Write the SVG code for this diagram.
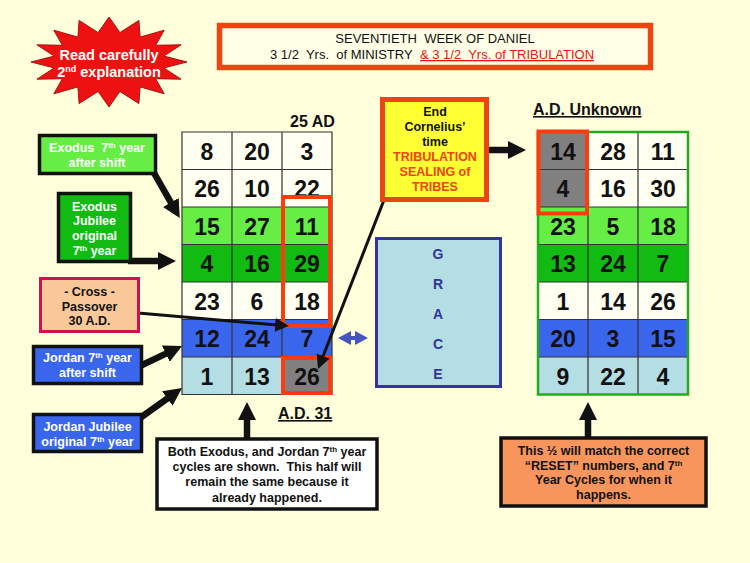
<svg xmlns="http://www.w3.org/2000/svg" width="750" height="563" viewBox="0 0 750 563">
<defs>
<style>
text{font-family:"Liberation Sans",Arial,sans-serif}
.num{font-size:23px;font-weight:bold;text-anchor:middle;fill:#111}
.lbl{font-size:12.5px;font-weight:bold;text-anchor:middle}
.wt{fill:#fff}
.bk{fill:#111}
.hd{font-size:16px;font-weight:bold;fill:#111}
.gl{stroke:#333;stroke-width:1.2;fill:none}
.rw{fill:#fffff2}
.lg{fill:#66ee44}
.dg{fill:#11bb11}
.bl{fill:#3a66ee}
.lb{fill:#b4dde4}
.gy{fill:#808080}
.hl{fill:none;stroke:#ff3a10;stroke-width:4}
.box{stroke:#111;stroke-width:3.5}
.thick{stroke:#111;stroke-width:6.5;fill:none}
.thin{stroke:#111;stroke-width:3;fill:none}
</style>
<marker id="big" viewBox="0 0 10 10" refX="4" refY="5" markerWidth="18" markerHeight="18" markerUnits="userSpaceOnUse" orient="auto"><path d="M0,0 L10,5 L0,10 z" fill="#111"/></marker>
<marker id="small" viewBox="0 0 10 10" refX="4" refY="5" markerWidth="14" markerHeight="14" markerUnits="userSpaceOnUse" orient="auto"><path d="M0,0 L10,5 L0,10 z" fill="#111"/></marker>
</defs>
<rect x="0" y="0" width="750" height="563" fill="#ffffdc"/>

<g id="starburst">
<polygon fill="#ee1111" stroke="#aa1111" stroke-width="1" points="187,62 163.9,67.9 181.1,79.2 155.6,78.7 164.2,93.8 140.1,86.9 138.9,103.6 119.9,91.4 109,107 98.1,91.4 79.1,103.6 77.9,86.9 53.8,93.8 62.4,78.7 36.9,79.2 54.1,67.9 31,62 54.1,56.1 36.9,44.8 62.4,45.3 53.8,30.2 77.9,37.1 79.1,20.4 98.1,32.6 109,17 119.9,32.6 138.9,20.4 140.1,37.1 164.2,30.2 155.6,45.3 181.1,44.8 163.9,56.1"/>
<text x="109" y="60" text-anchor="middle" font-size="14.5" font-weight="bold" fill="#fff">Read carefully</text>
<text x="109" y="77" text-anchor="middle" font-size="14.5" font-weight="bold" fill="#fff">2<tspan font-size="9" dy="-5">nd</tspan><tspan dy="5"> explanation</tspan></text>
</g>

<g id="title">
<rect x="219.5" y="25.5" width="431" height="42" fill="#ffffe8" stroke="#ee4411" stroke-width="5.5"/>
<text x="435" y="43" text-anchor="middle" font-size="13" fill="#111" xml:space="preserve">SEVENTIETH  WEEK OF DANIEL</text>
<text x="270" y="59" font-size="13" fill="#111" xml:space="preserve">3 1/2  Yrs.  of MINISTRY  </text>
<text x="420" y="59" font-size="13" fill="#ee1111" text-decoration="underline" xml:space="preserve">&amp; 3 1/2  Yrs. of TRIBULATION</text>
</g>

<g id="grid-left">
<text x="290" y="127" class="hd">25 AD</text>
<rect x="182" y="132" width="150" height="75" class="rw"/>
<rect x="182" y="207" width="150" height="37.5" class="lg"/>
<rect x="182" y="244.5" width="150" height="37.5" class="dg"/>
<rect x="182" y="282" width="150" height="37.5" class="rw"/>
<rect x="182" y="319.5" width="150" height="37.5" class="bl"/>
<rect x="182" y="357" width="150" height="37.5" class="lb"/>
<rect x="282" y="357" width="50" height="37.5" class="gy"/>
<path class="gl" d="M182,132 H332 V394.5 H182 Z M232,132 V394.5 M282,132 V394.5 M182,169.5 H332 M182,207 H332 M182,244.5 H332 M182,282 H332 M182,319.5 H332 M182,357 H332"/>
<text class="num" x="207" y="159.5">8</text><text class="num" x="257" y="159.5">20</text><text class="num" x="307" y="159.5">3</text>
<text class="num" x="207" y="197">26</text><text class="num" x="257" y="197">10</text><text class="num" x="307" y="197">22</text>
<text class="num" x="207" y="234.5">15</text><text class="num" x="257" y="234.5">27</text><text class="num" x="307" y="234.5">11</text>
<text class="num" x="207" y="272">4</text><text class="num" x="257" y="272">16</text><text class="num" x="307" y="272">29</text>
<text class="num" x="207" y="309.5">23</text><text class="num" x="257" y="309.5">6</text><text class="num" x="307" y="309.5">18</text>
<text class="num" x="207" y="347">12</text><text class="num" x="257" y="347">24</text><text class="num" x="307" y="347">7</text>
<text class="num" x="207" y="384.5">1</text><text class="num" x="257" y="384.5">13</text><text class="num" x="307" y="384.5">26</text>
<rect x="283" y="197" width="47" height="129" class="hl"/>
<rect x="283" y="358" width="47" height="35" class="hl"/>
<text x="278" y="419" class="hd" text-decoration="underline">A.D. 31</text>
</g>

<g id="grid-right">
<text x="533" y="115" class="hd" text-decoration="underline">A.D. Unknown</text>
<rect x="538" y="132" width="150" height="75" class="rw"/>
<rect x="538" y="132" width="50" height="75" class="gy"/>
<rect x="538" y="207" width="150" height="37.5" class="lg"/>
<rect x="538" y="244.5" width="150" height="37.5" class="dg"/>
<rect x="538" y="282" width="150" height="37.5" class="rw"/>
<rect x="538" y="319.5" width="150" height="37.5" class="bl"/>
<rect x="538" y="357" width="150" height="37.5" class="lb"/>
<path class="gl" d="M588,132 V394.5 M638,132 V394.5 M538,169.5 H688 M538,207 H688 M538,244.5 H688 M538,282 H688 M538,319.5 H688 M538,357 H688"/>
<rect x="538" y="132" width="150" height="262.5" fill="none" stroke="#22aa22" stroke-width="2.5"/>
<text class="num" x="563" y="159.5">14</text><text class="num" x="613" y="159.5">28</text><text class="num" x="663" y="159.5">11</text>
<text class="num" x="563" y="197">4</text><text class="num" x="613" y="197">16</text><text class="num" x="663" y="197">30</text>
<text class="num" x="563" y="234.5">23</text><text class="num" x="613" y="234.5">5</text><text class="num" x="663" y="234.5">18</text>
<text class="num" x="563" y="272">13</text><text class="num" x="613" y="272">24</text><text class="num" x="663" y="272">7</text>
<text class="num" x="563" y="309.5">1</text><text class="num" x="613" y="309.5">14</text><text class="num" x="663" y="309.5">26</text>
<text class="num" x="563" y="347">20</text><text class="num" x="613" y="347">3</text><text class="num" x="663" y="347">15</text>
<text class="num" x="563" y="384.5">9</text><text class="num" x="613" y="384.5">22</text><text class="num" x="663" y="384.5">4</text>
<rect x="538.5" y="131.5" width="48.5" height="82" class="hl"/>
</g>

<g id="grace">
<rect x="376.5" y="238.5" width="124" height="148" fill="#b4dee4" stroke="#333399" stroke-width="3"/>
<g font-size="14" font-weight="bold" fill="#333399" text-anchor="middle">
<text x="438" y="258.5">G</text><text x="438" y="289">R</text><text x="438" y="319">A</text><text x="438" y="349">C</text><text x="438" y="379">E</text>
</g>
</g>

<g id="connectors">
<path class="thick" d="M150,166 L174.4,208.7" marker-end="url(#big)"/>
<path class="thick" d="M128,261 L165.2,261" marker-end="url(#big)"/>
<path class="thin" d="M138,313 L280.6,325.3" marker-end="url(#small)"/>
<path class="thick" d="M140,366 L172.3,350.6" marker-end="url(#big)"/>
<path class="thick" d="M140,418 L173.2,394.3" marker-end="url(#big)"/>
<path class="thick" d="M247,440 L247,412.8" marker-end="url(#big)"/>
<path class="thick" d="M588,440 L588,412.8" marker-end="url(#big)"/>
<path class="thick" d="M487,150 L515.2,150" marker-end="url(#big)"/>
<path class="thin" d="M384,200 L321.1,361.2" marker-end="url(#small)"/>
<path fill="#4455bb" d="M338,338 L351,331 L351,336 L355,336 L355,331 L368,338 L355,345 L355,340 L351,340 L351,345 Z"/>
</g>

<g id="end-cornelius">
<rect x="382.5" y="99.5" width="104" height="100" fill="#ffff33" stroke="#ee4411" stroke-width="5"/>
<g font-size="12.5" font-weight="bold" text-anchor="middle">
<text x="435" y="116" fill="#111">End</text>
<text x="435" y="131" fill="#111">Cornelius’</text>
<text x="435" y="146" fill="#111">time</text>
<text x="435" y="161" fill="#ee4411">TRIBULATION</text>
<text x="435" y="176" fill="#ee4411">SEALING of</text>
<text x="435" y="191" fill="#ee4411">TRIBES</text>
</g>
</g>

<g id="exodus-7th">
<rect x="39.5" y="135.5" width="116" height="38" class="box lg"/>
<text class="lbl wt" x="97" y="151.5" xml:space="preserve">Exodus  7<tspan font-size="8" dy="-4">th</tspan><tspan dy="4"> year</tspan></text>
<text class="lbl wt" x="97" y="167">after shift</text>
</g>

<g id="exodus-jubilee">
<rect x="58.5" y="193.5" width="72" height="68" class="box dg"/>
<text class="lbl wt" x="94.5" y="210.5">Exodus</text>
<text class="lbl wt" x="94.5" y="225">Jubilee</text>
<text class="lbl wt" x="94.5" y="240">original</text>
<text class="lbl wt" x="94.5" y="254.5">7<tspan font-size="8" dy="-4">th</tspan><tspan dy="4"> year</tspan></text>
</g>

<g id="cross-passover">
<rect x="40.5" y="278.5" width="98" height="53" fill="#f8c898" stroke="#cc1155" stroke-width="3"/>
<text class="lbl bk" x="89.5" y="296">- Cross -</text>
<text class="lbl bk" x="89.5" y="310.5">Passover</text>
<text class="lbl bk" x="89.5" y="325">30 A.D.</text>
</g>

<g id="jordan-7th">
<rect x="33.5" y="346.5" width="108" height="37" class="box bl"/>
<text class="lbl wt" x="87.5" y="361.5">Jordan 7<tspan font-size="8" dy="-4">th</tspan><tspan dy="4"> year</tspan></text>
<text class="lbl wt" x="87.5" y="377">after shift</text>
</g>

<g id="jordan-jubilee">
<rect x="33.5" y="414.5" width="108" height="37" class="box bl"/>
<text class="lbl wt" x="87.5" y="431">Jordan Jubilee</text>
<text class="lbl wt" x="87.5" y="445.5">original 7<tspan font-size="8" dy="-4">th</tspan><tspan dy="4"> year</tspan></text>
</g>

<g id="note-left">
<rect x="157" y="439" width="220" height="70" fill="#fff" class="box" stroke-width="4"/>
<text class="lbl bk" x="267" y="456">Both Exodus, and Jordan 7<tspan font-size="8" dy="-4">th</tspan><tspan dy="4"> year</tspan></text>
<text class="lbl bk" x="267" y="471" xml:space="preserve">cycles are shown.  This half will</text>
<text class="lbl bk" x="267" y="486">remain the same because it</text>
<text class="lbl bk" x="267" y="501.5">already happened.</text>
</g>

<g id="note-right">
<rect x="501" y="438" width="205" height="68" fill="#f7955d" class="box" stroke-width="4"/>
<text class="lbl bk" x="603.5" y="454.5">This ½ will match the correct</text>
<text class="lbl bk" x="603.5" y="469.5">“RESET” numbers, and 7<tspan font-size="8" dy="-4">th</tspan></text>
<text class="lbl bk" x="603.5" y="484">Year Cycles for when it</text>
<text class="lbl bk" x="603.5" y="499">happens.</text>
</g>
</svg>
